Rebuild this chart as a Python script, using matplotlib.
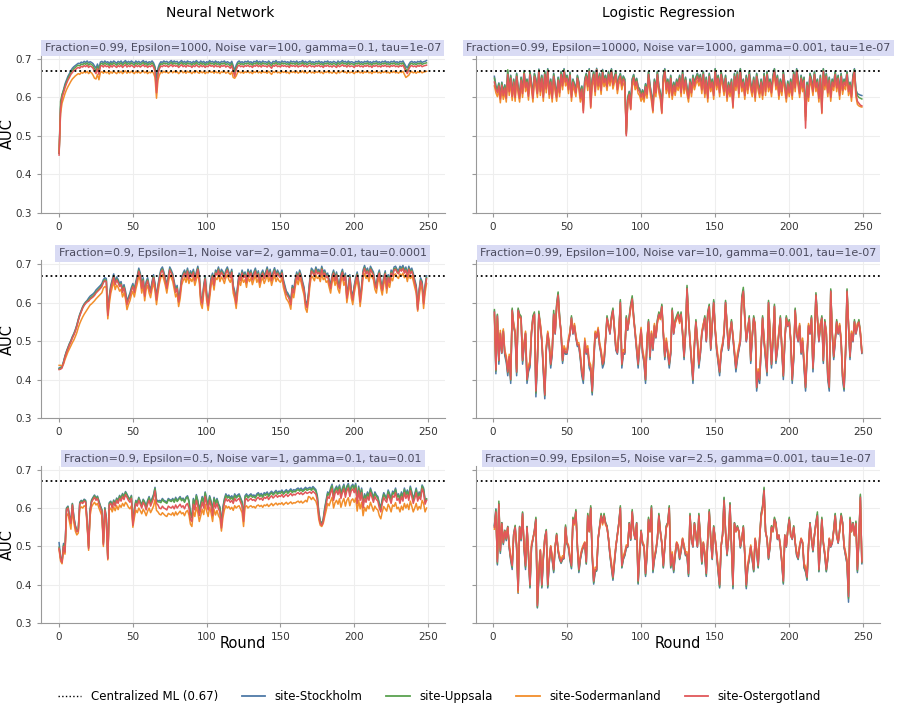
import numpy as np
import matplotlib.pyplot as plt
from matplotlib.lines import Line2D

# sitios y colores
sites = ['site-Stockholm', 'site-Uppsala', 'site-Sodermanland', 'site-Ostergotland']
colors = ['#4e79a7', '#59a14f', '#f28e2b', '#e15759']
centralized_auc = 0.67

col_titles = ['Neural Network', 'Logistic Regression']
panel_titles = [
    ['Fraction=0.99, Epsilon=1000, Noise var=100, gamma=0.1, tau=1e-07',
     'Fraction=0.99, Epsilon=10000, Noise var=1000, gamma=0.001, tau=1e-07'],
    ['Fraction=0.9, Epsilon=1, Noise var=2, gamma=0.01, tau=0.0001',
     'Fraction=0.99, Epsilon=100, Noise var=10, gamma=0.001, tau=1e-07'],
    ['Fraction=0.9, Epsilon=0.5, Noise var=1, gamma=0.1, tau=0.01',
     'Fraction=0.99, Epsilon=5, Noise var=2.5, gamma=0.001, tau=1e-07'],
]

# AUC x1000 por ronda (red neuronal: rondas 0-249, regresion logistica: rondas 1-249)
nn1_stockholm = """
455 575 605 620 635 645 655 662 670 676 680 683 686 689 688 692 690 694 691 695
690 693 691 688 682 676 687 675 692 694 690 695 691 693 688 694 690 695 692 689
694 691 695 689 693 696 690 694 691 695 692 689 695 691 694 690 693 696 691 694
689 693 691 695 690 680 652 676 687 693 691 695 692 694 690 693 696 691 695 692
694 689 693 696 691 694 690 695 692 693 689 694 691 696 692 690 695 691 694 689
693 691 696 692 694 690 695 691 693 689 694 692 695 690 693 691 688 694 682 670
684 692 695 691 693 690 694 692 695 691 693 689 694 692 696 691 694 690 695 692
693 690 695 691 688 694 692 696 691 693 690 695 692 694 691 693 689 695 692 694
691 695 690 693 692 696 691 694 690 693 695 691 693 690 694 692 695 691 693 689
694 692 695 691 693 690 694 692 689 695 691 693 696 692 694 690 695 691 693 692
689 694 692 695 691 693 690 694 692 695 691 693 689 694 692 695 691 693 690 694
692 695 691 693 690 694 692 695 691 693 690 694 692 695 688 681 677 686 692 694
691 693 690 694 692 695 691 693 694 696
"""
nn1_uppsala = """
455 590 608 618 630 640 650 657 665 670 675 678 682 684 682 687 685 689 686 690
684 688 686 682 675 669 681 667 687 689 685 690 686 688 683 689 685 690 687 684
689 686 690 684 688 691 685 689 686 690 687 684 690 686 689 685 688 691 686 689
684 688 686 690 685 675 625 667 681 688 686 690 687 689 685 688 691 686 690 687
689 684 688 691 686 689 685 690 687 688 684 689 686 691 687 685 690 686 689 684
688 686 691 687 689 685 690 686 688 684 689 687 690 685 688 686 682 689 675 662
678 687 690 686 688 685 689 687 690 686 688 684 689 687 691 686 689 685 690 687
688 685 690 686 682 689 687 691 686 688 685 690 687 689 686 688 684 690 687 689
686 690 685 688 687 691 686 689 685 688 690 686 688 685 689 687 690 686 688 684
689 687 690 686 688 685 689 687 684 690 686 688 691 687 689 685 690 686 688 687
684 689 687 690 686 688 685 689 687 690 686 688 684 689 687 690 686 688 685 689
687 690 686 688 685 689 687 690 686 688 685 689 687 690 682 674 668 680 687 689
686 688 685 689 687 690 686 688 689 690
"""
nn1_sodermanland = """
458 558 585 598 610 620 628 635 642 648 652 656 659 662 660 665 663 667 664 668
662 666 664 658 650 648 660 646 665 667 663 668 664 666 661 667 663 668 665 662
667 664 668 662 666 669 663 667 664 668 665 662 668 664 667 663 666 669 664 667
662 666 664 668 663 652 598 645 659 666 664 668 665 667 663 666 669 664 668 665
667 662 666 669 664 667 663 668 665 666 662 667 664 669 665 663 668 664 667 662
666 664 669 665 667 663 668 664 666 662 667 665 668 663 666 664 660 667 652 650
656 665 668 664 666 663 667 665 668 664 666 662 667 665 669 664 667 663 668 665
666 663 668 664 660 667 665 669 664 666 663 668 665 667 664 666 662 668 665 667
664 668 663 666 665 669 664 667 663 666 668 664 666 663 667 665 668 664 666 662
667 665 668 664 666 663 667 665 662 668 664 666 669 665 667 663 668 664 666 665
662 667 665 668 664 666 663 667 665 668 664 666 662 667 665 668 664 666 663 667
665 668 664 666 663 667 665 668 664 666 663 667 665 668 660 652 655 658 665 667
664 666 663 667 665 668 664 666 667 668
"""
nn1_ostergotland = """
450 570 600 612 625 636 645 652 660 665 670 672 676 678 676 681 679 683 680 684
678 682 680 676 668 662 675 660 681 683 679 684 680 682 677 683 679 684 681 678
683 680 684 678 682 685 679 683 680 684 681 678 684 680 683 679 682 685 680 683
678 682 680 684 679 668 612 660 675 682 680 684 681 683 679 682 685 680 684 681
683 678 682 685 680 683 679 684 681 682 678 683 680 685 681 679 684 680 683 678
682 680 685 681 683 679 684 680 682 678 683 681 684 679 682 680 676 683 668 655
672 681 684 680 682 679 683 681 684 680 682 678 683 681 685 680 683 679 684 681
682 679 684 680 676 683 681 685 680 682 679 684 681 683 680 682 678 684 681 683
680 684 679 682 681 685 680 683 679 682 684 680 682 679 683 681 684 680 682 678
683 681 684 680 682 679 683 681 678 684 680 682 685 681 683 679 684 680 682 681
678 683 681 684 680 682 679 683 681 684 680 682 678 683 681 684 680 682 679 683
681 684 680 682 679 683 681 684 680 682 679 683 681 684 676 668 662 674 681 683
680 682 679 683 681 684 680 682 683 684
"""

nn2_stockholm = """
430 432 434 447 462 474 484 494 502 512 520 530 542 557 570 580 590 597 602 606
612 617 620 623 627 633 637 641 645 650 660 665 663 575 617 645 660 675 655 667
660 650 655 635 647 630 603 615 625 640 650 635 655 670 690 677 645 665 625 655
665 645 633 655 673 650 615 645 670 687 693 680 665 645 670 693 685 675 655 635
645 610 630 665 677 685 673 690 670 683 675 687 665 680 695 673 617 605 645 670
625 600 630 665 677 653 685 680 693 675 687 681 670 685 693 680 673 687 645 630
605 645 677 665 685 673 680 660 687 675 685 667 680 690 673 683 660 677 685 670
680 693 675 687 665 680 691 675 685 677 673 685 660 645 630 625 617 603 645 633
660 680 667 685 673 655 640 605 595 625 665 690 685 677 693 683 687 675 695 680
685 673 677 660 645 673 685 665 680 655 645 675 687 665 677 620 645 673 633 615
645 665 680 655 610 645 685 697 683 690 675 695 687 680 655 645 673 685 657 640
667 683 645 673 660 685 677 693 695 687 683 695 690 697 685 693 675 695 683 690
677 660 645 590 635 665 655 605 645 670
"""
nn2_uppsala = """
428 430 432 445 460 472 482 492 500 510 518 528 540 555 568 578 588 595 600 604
607 612 615 618 622 628 632 636 640 645 655 660 658 570 612 640 655 670 650 662
655 645 650 630 642 625 598 610 620 635 645 630 650 665 685 672 640 660 620 650
660 640 628 650 668 645 610 640 665 682 688 675 660 640 665 688 680 670 650 630
640 605 625 660 672 680 668 685 665 678 670 682 660 675 690 668 612 600 640 665
620 595 625 660 672 648 680 675 688 670 682 676 665 680 688 675 668 682 640 625
600 640 672 660 680 668 675 655 682 670 680 662 675 685 668 678 655 672 680 665
675 688 670 682 660 675 686 670 680 672 668 680 655 640 625 620 612 598 640 628
655 675 662 680 668 650 635 600 590 620 660 685 680 672 688 678 682 670 690 675
680 668 672 655 640 668 680 660 675 650 640 670 682 660 672 615 640 668 628 610
640 660 675 650 605 640 680 692 678 685 670 690 682 675 650 640 668 680 652 635
662 678 640 668 655 680 672 688 690 682 678 690 685 692 680 688 670 690 678 685
672 655 640 585 630 660 650 600 640 665
"""
nn2_sodermanland = """
437 437 436 440 452 462 472 480 488 496 503 512 522 535 546 555 563 570 576 582
588 594 597 601 605 610 614 618 622 626 638 642 640 558 596 624 640 655 634 646
640 630 635 615 626 610 582 595 605 620 630 615 635 650 670 657 625 645 605 635
645 625 613 635 653 630 595 625 650 667 673 660 645 625 650 673 665 655 635 615
625 590 610 645 657 665 653 670 650 663 655 667 645 660 675 653 597 585 625 650
605 580 610 645 657 633 665 660 673 655 667 661 650 665 673 660 653 667 625 610
585 625 657 645 665 653 660 640 667 655 665 647 660 670 653 663 640 657 665 650
660 673 655 667 645 660 671 655 665 657 653 665 640 625 610 605 597 583 625 613
640 660 647 665 653 635 620 585 575 605 645 670 665 657 673 663 667 655 675 660
665 653 657 640 625 653 665 645 660 635 625 655 667 645 657 600 625 653 613 595
625 645 660 635 590 625 665 677 663 670 655 675 667 660 635 625 653 665 637 620
647 663 625 653 640 665 657 673 675 667 663 675 670 677 665 673 655 675 663 670
657 640 625 578 615 645 635 585 625 650
"""
nn2_ostergotland = """
426 427 430 443 458 470 480 490 498 508 516 526 538 553 566 576 586 593 598 602
604 609 612 615 619 625 629 633 637 642 652 657 655 567 609 637 652 667 647 659
652 642 647 627 639 622 595 607 617 632 642 627 647 662 682 669 637 657 617 647
657 637 625 647 665 642 607 637 662 679 685 672 657 637 662 685 677 667 647 627
637 602 622 657 669 677 665 682 662 675 667 679 657 672 687 665 609 597 637 662
617 592 622 657 669 645 677 672 685 667 679 673 662 677 685 672 665 679 637 622
597 637 669 657 677 665 672 652 679 667 677 659 672 682 665 675 652 669 677 662
672 685 667 679 657 672 683 667 677 669 665 677 652 637 622 617 609 595 637 625
652 672 659 677 665 647 632 597 587 617 657 682 677 669 685 675 679 667 687 672
677 665 669 652 637 665 677 657 672 647 637 667 679 657 669 612 637 665 625 607
637 657 672 647 602 637 677 689 675 682 667 687 679 672 647 637 665 677 649 632
659 675 637 665 652 677 669 685 687 679 675 687 682 689 677 685 667 687 675 682
669 652 637 582 627 657 647 597 637 662
"""

nn3_stockholm = """
510 472 462 508 490 600 605 580 566 612 578 555 542 545 615 620 617 623 620 565
500 596 621 628 634 626 631 618 606 596 511 601 576 470 614 618 606 621 611 626
620 633 626 638 630 643 636 628 623 633 562 598 620 613 628 618 608 623 616 603
620 630 615 625 635 654 622 618 620 618 625 620 618 615 625 622 620 625 618 628
620 625 630 622 626 618 628 632 620 588 578 625 610 635 620 595 613 630 615 642
622 608 632 618 595 628 613 625 611 603 558 602 624 637 630 634 627 632 624 637
630 634 637 627 617 575 632 637 630 634 637 632 634 630 637 640 634 638 632 640
637 642 634 640 644 638 642 646 640 644 642 647 640 644 648 642 646 650 644 648
646 650 652 648 652 647 650 654 650 652 654 650 656 652 648 632 590 566 560 572
600 622 642 637 652 662 632 650 657 647 660 637 652 662 640 657 664 642 657 662
652 664 624 657 632 652 612 637 627 642 632 652 640 627 642 634 630 612 602 624
640 632 627 647 637 624 644 640 652 632 637 624 642 630 652 637 647 632 657 642
624 637 652 630 642 634 660 652 622 622
"""
nn3_uppsala = """
498 470 460 503 488 598 603 578 563 611 575 553 541 543 613 618 615 621 618 563
498 594 619 626 632 624 629 616 604 594 508 599 574 470 612 616 604 619 609 624
618 631 624 636 628 641 634 626 621 631 560 596 618 611 626 616 606 621 614 601
617 627 612 622 632 651 619 616 616 614 622 617 615 612 622 619 617 622 615 625
617 622 627 619 623 615 625 629 617 584 574 622 607 632 617 592 610 627 612 640
619 605 629 615 592 625 610 622 608 600 555 598 620 633 626 630 623 628 620 633
626 630 633 623 613 572 628 633 626 630 633 628 630 626 633 636 630 634 628 636
633 638 630 636 640 634 638 642 636 640 638 643 636 640 644 638 642 646 640 644
642 646 648 644 648 643 646 650 646 648 650 646 652 648 644 628 586 564 558 570
597 618 638 633 648 658 628 646 653 643 656 633 648 658 636 653 660 638 653 658
648 660 620 653 628 648 608 633 623 638 628 648 636 623 638 630 626 608 598 620
636 628 623 643 633 620 640 636 648 628 633 620 638 626 648 633 643 628 653 638
620 633 648 626 638 630 657 648 618 624
"""
nn3_sodermanland = """
492 462 455 490 480 580 585 565 545 595 562 540 530 535 598 603 600 606 603 555
490 580 603 610 615 608 612 600 590 580 500 585 562 465 595 600 590 603 593 606
596 608 602 612 605 615 610 602 598 606 550 575 595 588 600 593 585 597 590 580
592 600 588 596 605 622 594 590 584 582 588 584 580 578 586 584 582 588 580 590
582 587 592 585 588 580 590 594 582 558 552 592 578 602 588 565 580 597 583 610
592 578 602 587 565 597 582 594 580 573 540 575 595 606 600 604 597 602 594 606
600 604 606 597 588 552 602 606 600 604 606 602 604 600 606 608 604 607 602 608
606 610 604 608 612 606 610 613 608 612 610 614 608 612 615 610 613 616 611 614
613 616 618 614 618 613 616 620 616 630 628 622 628 622 618 605 570 555 552 560
578 594 612 606 618 628 600 614 620 610 624 602 616 625 605 620 627 606 620 624
615 626 592 620 598 615 580 602 592 606 598 615 604 592 605 598 595 580 572 590
604 598 592 610 602 590 608 604 614 598 602 590 605 595 612 600 610 596 618 605
590 600 612 595 604 598 620 612 590 600
"""
nn3_ostergotland = """
495 468 458 500 485 595 600 575 560 608 572 550 538 540 610 615 612 618 615 560
495 590 615 622 628 620 625 612 600 590 505 595 570 468 608 612 600 615 605 620
612 625 618 630 622 635 628 620 615 625 555 590 612 605 620 610 600 615 608 595
610 620 605 615 625 645 612 608 600 598 605 600 598 595 605 602 600 605 598 608
600 605 610 602 606 598 608 612 600 570 565 610 595 620 605 580 598 615 600 630
610 595 620 605 580 615 600 612 598 590 548 590 612 625 618 622 615 620 612 625
618 622 625 615 605 565 620 625 618 622 625 620 622 618 625 628 622 626 620 628
625 630 622 628 632 626 630 634 628 632 630 635 628 632 636 630 634 638 632 636
634 638 640 636 640 635 638 642 638 640 642 638 644 640 636 620 580 560 555 565
590 610 630 625 640 650 620 638 645 635 648 625 640 650 628 645 652 630 645 650
640 652 612 645 620 640 600 625 615 630 620 640 628 615 630 622 618 600 590 612
628 620 615 635 625 612 632 628 640 620 625 612 630 618 640 625 635 620 645 630
612 625 640 618 630 622 650 640 610 620
"""

lr1_stockholm = """
655 630 620 638 604 640 613 633 606 668 623 658 610 648 608 663 628 606 653 618
670 633 648 611 668 640 606 663 648 618 674 623 658 608 668 630 675 616 648 606
663 633 608 653 620 668 638 675 648 658 628 666 608 648 636 620 658 640 606 630
585 648 663 636 675 600 648 668 623 676 638 663 626 673 646 658 636 668 648 675
640 656 668 628 653 663 638 656 648 505 598 616 590 648 660 638 650 628 623 608
620 606 636 616 668 633 608 585 648 620 668 630 613 580 656 675 628 648 618 658
613 640 623 648 636 658 620 668 628 653 626 606 648 620 658 638 653 663 648 660
628 668 618 653 606 663 633 648 613 675 638 658 620 668 648 623 658 608 640 620
648 590 663 636 668 618 675 633 648 613 658 628 668 638 620 653 608 663 636 618
648 613 663 623 668 633 648 620 658 675 638 658 613 648 623 668 638 606 643 620
648 613 668 633 675 648 618 658 633 653 560 640 608 663 648 623 668 633 648 606
658 585 675 638 663 620 653 608 648 636 668 633 658 613 663 626 648 638 668 623
640 608 658 675 620 610 608 606 605
"""
lr1_uppsala = """
650 628 618 636 602 638 611 631 604 672 621 656 608 646 606 661 626 604 651 616
668 631 646 609 666 638 604 661 646 616 672 621 656 606 666 628 673 614 646 604
661 631 606 651 618 666 636 673 646 656 626 664 606 646 634 618 656 638 604 628
580 646 661 634 673 595 646 666 621 674 636 661 624 671 644 656 634 666 646 673
638 654 666 626 651 661 636 654 646 510 600 614 585 646 658 636 648 626 621 606
618 604 634 614 666 631 606 578 646 618 666 628 611 575 654 673 626 646 616 656
611 638 621 646 634 656 618 666 626 651 624 604 646 618 656 636 651 661 646 658
626 666 616 651 604 661 631 646 611 674 636 656 618 666 646 621 656 606 638 618
646 585 661 634 666 616 674 631 646 611 656 626 666 636 618 651 606 661 634 616
646 611 661 621 666 631 646 618 656 674 636 656 611 646 621 666 636 604 641 618
646 611 666 631 673 646 616 656 631 651 550 638 606 661 646 621 666 631 646 604
656 575 674 636 661 618 651 606 646 634 666 631 656 611 661 624 646 636 666 621
638 606 656 673 618 605 600 598 596
"""
lr1_sodermanland = """
630 612 602 620 586 622 595 615 588 650 605 640 592 630 590 645 610 588 635 600
652 615 630 593 650 622 588 645 630 600 658 605 640 590 650 612 658 598 630 588
645 615 590 635 602 650 620 658 630 640 610 648 590 630 618 602 640 622 588 612
565 630 645 618 658 572 630 650 605 662 620 645 608 655 628 640 618 650 630 658
622 638 650 610 635 645 620 638 630 505 585 598 568 630 642 620 632 610 605 590
602 588 618 598 650 615 590 560 630 602 650 612 595 558 638 658 610 630 600 640
595 622 605 630 618 640 602 650 610 635 608 588 630 602 640 620 635 645 630 642
610 650 600 635 588 645 615 630 595 658 620 640 602 650 630 605 640 590 622 602
630 572 645 618 650 600 658 615 630 595 640 610 650 620 602 635 590 645 618 600
630 595 645 605 650 615 630 602 640 658 620 640 595 630 605 650 620 588 625 602
630 595 650 615 658 630 600 640 615 635 540 622 590 645 630 605 650 615 630 588
640 558 658 620 645 602 635 590 630 618 650 615 640 595 645 608 630 620 650 605
622 590 640 658 602 582 578 576 575
"""
lr1_ostergotland = """
640 622 612 630 596 632 605 625 598 660 615 650 602 640 600 655 620 598 645 610
662 625 640 603 660 632 598 655 640 610 668 615 650 600 660 622 668 608 640 598
655 625 600 645 612 660 630 668 640 650 620 658 600 640 628 612 650 632 598 622
560 640 655 628 668 575 640 660 615 672 630 655 618 665 638 650 628 660 640 668
632 648 660 620 645 655 630 648 640 500 590 608 570 640 652 630 642 620 615 600
612 598 628 608 660 625 600 565 640 612 660 622 605 560 648 668 620 640 610 650
605 632 615 640 628 650 612 660 620 645 618 598 640 612 650 630 645 655 640 652
620 660 610 645 598 655 625 640 605 668 630 650 612 660 640 615 650 600 632 612
640 575 655 628 660 610 668 625 640 605 650 620 660 630 612 645 600 655 628 610
640 605 655 615 660 625 640 612 650 668 630 650 605 640 615 660 630 598 635 612
640 605 660 625 668 640 610 650 625 645 520 632 600 655 640 615 660 625 640 598
650 560 668 630 655 612 645 600 640 628 660 625 650 605 655 618 640 630 660 615
632 600 650 668 612 590 585 580 578
"""

lr2_stockholm = """
578 415 568 440 518 468 527 462 445 410 452 390 582 538 518 410 582 566 558 440
486 518 390 420 432 518 562 572 355 442 572 538 498 420 350 476 518 486 430 466
572 518 592 625 562 518 442 476 466 466 498 518 562 518 538 508 486 486 452 410
390 498 466 476 430 420 360 442 518 508 528 486 466 430 442 498 562 538 518 562
582 528 476 466 518 604 430 466 466 562 528 562 592 612 562 518 476 430 486 528
466 442 390 498 552 452 518 476 538 508 552 572 562 592 518 452 498 466 430 466
582 518 552 562 572 552 572 518 452 518 640 562 498 442 390 486 552 498 430 466
518 538 562 498 572 592 476 538 604 528 476 442 410 466 486 518 602 538 476 518
552 508 466 420 452 476 498 612 634 562 498 528 562 442 508 562 538 370 410 390
476 562 498 452 410 602 518 430 498 592 442 476 518 562 476 400 498 562 538 552
498 390 452 582 518 498 538 466 498 430 370 452 538 518 562 420 498 622 562 498
538 562 442 552 518 400 370 632 518 452 498 552 518 538 498 400 370 466 632 538
452 518 498 552 518 538 552 518 468
"""
lr2_uppsala = """
582 422 570 448 522 470 528 468 452 418 458 398 586 542 522 418 586 570 565 448
490 522 398 428 438 522 566 576 365 448 578 542 502 428 358 480 522 490 438 470
580 522 596 628 566 522 448 480 470 470 502 522 566 522 542 512 490 490 458 418
398 502 470 480 438 428 366 448 522 512 532 490 470 438 448 502 566 542 522 566
586 532 480 470 522 608 438 470 470 566 532 566 596 618 566 522 480 438 490 532
470 448 398 502 556 458 522 480 542 512 556 576 566 596 522 458 502 470 438 470
586 522 556 566 576 556 576 522 458 522 645 566 502 448 398 490 556 502 438 470
522 542 566 502 576 596 480 542 608 532 480 448 418 470 490 522 606 542 480 522
556 512 470 428 458 480 502 616 640 566 502 532 566 448 512 566 542 378 418 398
480 566 502 458 418 606 522 438 502 596 448 480 522 566 480 408 502 566 542 556
502 398 458 586 522 502 542 470 502 438 378 458 542 522 566 428 502 626 566 502
542 566 448 556 522 408 378 636 522 458 502 556 522 542 502 408 375 470 636 542
458 522 502 556 522 542 556 522 470
"""
lr2_sodermanland = """
568 432 560 458 528 478 532 476 462 428 466 410 575 546 526 428 575 562 556 458
496 526 410 438 448 526 556 566 380 458 566 546 508 438 370 488 526 496 448 478
566 526 586 615 556 526 458 488 478 478 508 526 556 526 546 516 496 496 468 428
410 508 478 488 448 438 380 458 526 516 536 496 478 448 458 508 556 546 526 556
575 536 488 478 526 595 448 478 478 556 536 556 586 605 556 526 488 448 496 536
478 458 410 508 546 468 526 488 546 516 546 566 556 586 526 468 508 478 448 478
575 526 546 556 566 546 566 526 468 526 630 556 508 458 410 496 546 508 448 478
526 546 556 508 566 586 488 546 595 536 488 458 428 478 496 526 595 546 488 526
546 516 478 438 468 488 508 605 625 556 508 536 556 458 516 556 546 390 428 410
488 556 508 468 428 595 526 448 508 586 458 488 526 556 488 418 508 556 546 546
508 410 468 575 526 508 546 478 508 448 390 468 546 526 556 438 508 615 556 508
546 556 458 546 526 418 390 625 526 468 508 546 526 546 508 418 390 478 625 546
468 526 508 546 526 546 546 526 476
"""
lr2_ostergotland = """
575 425 565 450 520 470 525 470 455 420 460 400 580 540 520 420 580 565 560 450
490 520 400 430 440 520 560 570 370 450 570 540 500 430 360 480 520 490 440 470
570 520 590 620 560 520 450 480 470 470 500 520 560 520 540 510 490 490 460 420
400 500 470 480 440 430 370 450 520 510 530 490 470 440 450 500 560 540 520 560
580 530 480 470 520 600 440 470 470 560 530 560 590 610 560 520 480 440 490 530
470 450 400 500 550 460 520 480 540 510 550 570 560 590 520 460 500 470 440 470
580 520 550 560 570 550 570 520 460 520 637 560 500 450 400 490 550 500 440 470
520 540 560 500 570 590 480 540 600 530 480 450 420 470 490 520 600 540 480 520
550 510 470 430 460 480 500 610 630 560 500 530 560 450 510 560 540 380 420 400
480 560 500 460 420 600 520 440 500 590 450 480 520 560 480 410 500 560 540 550
500 400 460 580 520 500 540 470 500 440 380 460 540 520 560 430 500 620 560 500
540 560 450 550 520 410 380 630 520 460 500 550 520 540 500 410 380 470 630 540
460 520 500 550 520 540 550 520 470
"""

lr3_stockholm = """
555 598 452 612 482 562 505 542 515 552 495 464 440 532 552 494 378 552 515 588
495 440 552 474 392 496 518 540 572 340 422 488 392 466 522 542 392 456 498 464
432 498 532 486 466 456 466 468 552 506 496 464 442 572 562 592 496 432 466 486
498 508 454 582 538 602 474 402 434 436 518 552 582 562 582 562 552 518 476 444
412 456 498 532 562 602 444 466 476 496 498 562 516 592 538 518 562 402 476 542
506 498 422 476 572 538 604 432 466 486 518 582 538 506 444 498 552 562 602 444
474 432 476 508 496 466 488 518 498 476 476 422 582 518 498 562 528 498 582 518
454 508 476 422 518 592 518 466 552 518 476 432 392 498 532 626 538 476 518 612
496 390 562 538 552 538 496 518 552 476 390 444 466 498 466 434 518 486 444 518
582 604 650 538 518 466 498 552 538 572 562 518 528 498 456 402 528 498 542 572
528 518 552 508 476 466 498 518 508 444 434 412 498 562 518 486 528 562 584 434
498 572 508 476 434 466 518 498 508 542 584 528 508 542 584 562 498 476 454 355
572 538 562 528 562 432 518 632 455
"""
lr3_uppsala = """
552 596 456 618 486 562 508 542 518 552 498 468 446 532 555 498 382 552 518 590
498 446 552 478 395 498 520 542 576 342 426 490 395 468 522 544 396 458 500 468
436 500 534 488 468 458 468 470 556 508 498 468 446 576 562 596 498 436 468 488
500 510 456 586 540 606 476 406 436 438 520 554 586 562 586 562 554 520 478 446
416 458 500 532 562 606 446 468 478 498 500 562 518 596 540 520 562 405 478 542
508 500 426 478 576 540 606 436 468 488 520 586 540 508 446 500 554 562 606 446
476 436 478 510 498 468 490 520 500 478 478 426 586 520 500 562 530 500 586 520
456 510 478 426 520 596 520 468 554 520 478 436 395 500 532 628 540 478 520 614
498 395 562 540 554 540 498 520 554 478 395 446 468 500 468 436 520 488 446 520
586 606 654 540 520 468 500 554 540 576 562 520 530 500 458 405 530 500 544 576
530 520 554 510 478 468 500 520 510 446 436 416 500 562 520 488 530 562 590 436
500 576 510 478 436 468 520 500 510 544 586 530 510 544 586 562 500 478 456 365
576 540 562 530 566 436 520 636 458
"""
lr3_sodermanland = """
545 585 468 602 496 556 516 538 526 548 506 476 458 528 546 506 380 548 526 578
506 458 546 486 408 506 522 536 562 352 438 492 408 476 518 536 408 466 502 476
448 502 528 494 476 466 476 476 546 512 504 476 458 566 556 584 506 448 476 494
504 512 466 576 538 594 486 418 446 446 522 548 576 556 576 556 548 522 486 456
428 466 504 528 556 594 456 476 486 504 504 556 524 584 538 522 556 418 486 538
512 504 438 486 566 538 594 448 476 494 522 576 538 512 456 504 548 556 594 456
486 448 486 512 504 476 494 522 504 486 486 438 576 522 504 556 528 504 576 522
466 512 486 438 522 584 522 476 548 522 486 448 408 504 528 612 538 486 522 600
504 408 556 538 548 538 504 522 548 486 408 456 476 504 476 448 522 494 456 522
576 594 640 538 522 476 504 548 538 566 556 522 528 504 466 418 528 504 538 566
528 522 548 512 486 476 504 522 512 456 448 428 504 556 522 494 528 556 576 448
504 566 512 486 448 476 522 504 512 538 576 528 512 538 576 556 504 486 466 380
566 538 556 528 556 448 522 620 465
"""
lr3_ostergotland = """
550 590 460 610 490 560 510 540 520 550 500 470 450 530 550 500 385 550 520 585
500 450 550 480 400 500 520 540 570 346 430 490 400 470 520 540 400 460 500 470
440 500 530 490 470 460 470 470 550 510 500 470 450 570 560 590 500 440 470 490
500 510 460 580 540 600 480 410 440 440 520 550 580 560 580 560 550 520 480 450
420 460 500 530 560 600 450 470 480 500 500 560 520 590 540 520 560 410 480 540
510 500 430 480 570 540 600 440 470 490 520 580 540 510 450 500 550 560 600 450
480 440 480 510 500 470 490 520 500 480 480 430 580 520 500 560 530 500 580 520
460 510 480 430 520 590 520 470 550 520 480 440 400 500 530 620 540 480 520 608
500 400 560 540 550 540 500 520 550 480 400 450 470 500 470 440 520 490 450 520
580 600 646 540 520 470 500 550 540 570 560 520 530 500 460 410 530 500 540 570
530 520 550 510 480 470 500 520 510 450 440 420 500 560 520 490 530 560 580 440
500 570 510 480 440 470 520 500 510 540 580 530 510 540 580 560 500 480 460 370
570 540 560 530 560 440 520 628 460
"""

datos = [
    [[nn1_stockholm, nn1_uppsala, nn1_sodermanland, nn1_ostergotland],
     [lr1_stockholm, lr1_uppsala, lr1_sodermanland, lr1_ostergotland]],
    [[nn2_stockholm, nn2_uppsala, nn2_sodermanland, nn2_ostergotland],
     [lr2_stockholm, lr2_uppsala, lr2_sodermanland, lr2_ostergotland]],
    [[nn3_stockholm, nn3_uppsala, nn3_sodermanland, nn3_ostergotland],
     [lr3_stockholm, lr3_uppsala, lr3_sodermanland, lr3_ostergotland]],
]


def leer(s):
    return np.array(s.split(), dtype=float) / 1000


fig = plt.figure(figsize=(8.97, 7.11), dpi=100)

lefts = [0.0454, 0.5307]
bottoms = [0.7008, 0.4121, 0.1233]
width, height = 0.4506, 0.2216

for fila in range(3):
    for col in range(2):
        ax = fig.add_axes([lefts[col], bottoms[fila], width, height])
        for serie, color in zip(datos[fila][col], colors):
            y = leer(serie)
            inicio = 0 if col == 0 else 1
            x = np.arange(inicio, inicio + len(y))
            ax.plot(x, y, color=color, lw=1.1)
        ax.axhline(centralized_auc, color='black', ls=':', lw=1.3)
        ax.set_ylim(0.3, 0.71)
        ax.set_yticks([0.3, 0.4, 0.5, 0.6, 0.7])
        ax.set_xticks(range(0, 251, 50))
        ax.grid(color='#eeeeee', lw=0.8)
        ax.set_axisbelow(True)
        for lado in ['top', 'right']:
            ax.spines[lado].set_visible(False)
        for lado in ['left', 'bottom']:
            ax.spines[lado].set_color('#999999')
        ax.tick_params(labelsize=7.5, labelcolor='#333333', color='#999999', length=3)
        if col == 1:
            ax.set_yticklabels([])
        else:
            ax.set_ylabel('AUC', fontsize=10.5)
            ax.yaxis.set_label_coords(-0.065, 0.5)
        if fila == 2:
            ax.set_xlabel('Round', fontsize=10.5)
            ax.xaxis.set_label_coords(0.5, -0.08)
        ax.set_title(panel_titles[fila][col], fontsize=8, color='#4b4b5e', pad=3,
                     bbox=dict(boxstyle='square,pad=0.3', facecolor='#d9dbf4', edgecolor='none'))

fig.text(0.245, 0.982, col_titles[0], ha='center', va='center', fontsize=10)
fig.text(0.745, 0.982, col_titles[1], ha='center', va='center', fontsize=10)

handles = [Line2D([], [], color='black', ls=':', lw=1.0)]
handles += [Line2D([], [], color=c, lw=1.3) for c in colors]
labels = ['Centralized ML (0.67)'] + sites
fig.legend(handles, labels, loc='center', bbox_to_anchor=(0.49, 0.02), ncol=5,
           frameon=False, fontsize=8.5)

plt.savefig('out.png', dpi=100)
